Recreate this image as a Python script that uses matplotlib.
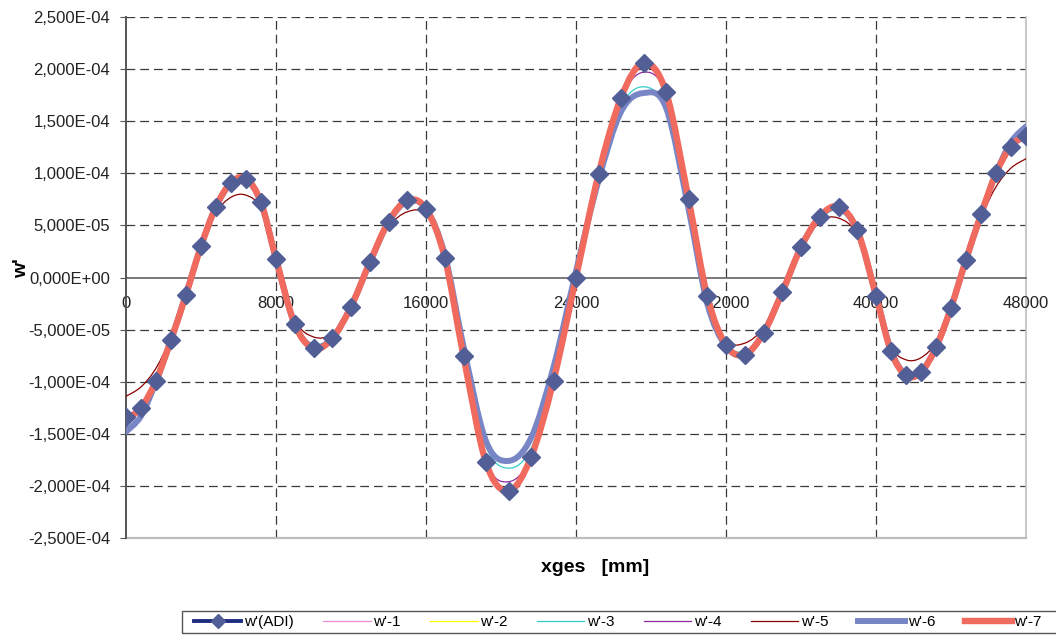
import numpy as np
import matplotlib
matplotlib.use("Agg")
import matplotlib.pyplot as plt
from matplotlib.path import Path
from matplotlib.patches import PathPatch, Rectangle
from matplotlib.lines import Line2D
from matplotlib.ticker import FuncFormatter

plt.rcParams['font.family'] = ['Liberation Sans', 'DejaVu Sans']

# x positions [mm]
xges = [0, 800, 1600, 2400, 3200, 4000, 4800, 5600, 6400, 7200, 8000,
        9000, 10000, 11000, 12000, 13000, 14000, 15000, 16000, 17000, 18000,
        19200, 20400, 21600, 22800, 24000, 25200, 26400, 27600, 28800, 30000,
        31000, 32000, 33000, 34000, 35000, 36000, 37000, 38000, 39000, 40000,
        40800, 41600, 42400, 43200, 44000, 44800, 45600, 46400, 47200, 48000]

# w' values in units of 1E-04
w_adi = [-1.34, -1.255, -0.99, -0.60, -0.165, 0.30, 0.68, 0.91, 0.95, 0.72, 0.18,
         -0.45, -0.68, -0.585, -0.28, 0.145, 0.535, 0.74, 0.66, 0.19, -0.755,
         -1.775, -2.05, -1.725, -0.99, 0.0, 0.99, 1.725, 2.06, 1.78, 0.755,
         -0.18, -0.65, -0.74, -0.535, -0.14, 0.29, 0.585, 0.68, 0.455, -0.175,
         -0.71, -0.94, -0.91, -0.67, -0.29, 0.17, 0.605, 1.0, 1.255, 1.36]
w_1 = [-1.35, -1.25, -0.99, -0.60, -0.165, 0.30, 0.68, 0.91, 0.95, 0.72, 0.18,
       -0.45, -0.68, -0.585, -0.28, 0.145, 0.535, 0.74, 0.66, 0.19, -0.755,
       -1.77, -2.04, -1.72, -0.99, 0.0, 0.99, 1.72, 2.05, 1.78, 0.755,
       -0.18, -0.65, -0.74, -0.535, -0.14, 0.29, 0.585, 0.68, 0.455, -0.175,
       -0.71, -0.94, -0.91, -0.67, -0.29, 0.17, 0.605, 1.0, 1.255, 1.36]
w_2 = [-1.35, -1.25, -0.99, -0.60, -0.165, 0.30, 0.68, 0.91, 0.95, 0.72, 0.18,
       -0.45, -0.68, -0.585, -0.28, 0.145, 0.535, 0.74, 0.66, 0.19, -0.755,
       -1.77, -2.04, -1.72, -0.99, 0.0, 0.99, 1.72, 2.05, 1.78, 0.755,
       -0.18, -0.65, -0.74, -0.535, -0.14, 0.29, 0.585, 0.68, 0.455, -0.175,
       -0.71, -0.94, -0.91, -0.67, -0.29, 0.17, 0.605, 1.0, 1.255, 1.36]
w_3 = [-1.33, -1.24, -0.98, -0.60, -0.165, 0.29, 0.66, 0.88, 0.92, 0.70, 0.18,
       -0.44, -0.64, -0.56, -0.27, 0.14, 0.52, 0.71, 0.64, 0.19, -0.74,
       -1.62, -1.83, -1.64, -0.96, 0.0, 0.96, 1.64, 1.83, 1.62, 0.74,
       -0.19, -0.63, -0.71, -0.52, -0.14, 0.27, 0.56, 0.64, 0.44, -0.18,
       -0.70, -0.92, -0.88, -0.66, -0.29, 0.165, 0.60, 0.98, 1.24, 1.33]
w_4 = [-1.33, -1.24, -0.98, -0.60, -0.165, 0.30, 0.67, 0.90, 0.93, 0.71, 0.18,
       -0.45, -0.67, -0.575, -0.28, 0.14, 0.53, 0.73, 0.65, 0.19, -0.75,
       -1.76, -1.96, -1.72, -0.98, 0.0, 0.98, 1.72, 1.97, 1.76, 0.75,
       -0.19, -0.65, -0.73, -0.53, -0.14, 0.28, 0.575, 0.67, 0.45, -0.18,
       -0.71, -0.93, -0.90, -0.67, -0.29, 0.165, 0.60, 0.98, 1.24, 1.33]
w_5 = [-1.14, -1.05, -0.87, -0.57, -0.16, 0.28, 0.62, 0.77, 0.79, 0.66, 0.19,
       -0.40, -0.57, -0.535, -0.27, 0.13, 0.48, 0.63, 0.60, 0.20, -0.74,
       -1.76, -2.02, -1.71, -0.98, 0.0, 0.98, 1.71, 2.02, 1.76, 0.74,
       -0.20, -0.60, -0.63, -0.48, -0.13, 0.27, 0.535, 0.57, 0.40, -0.19,
       -0.66, -0.79, -0.77, -0.62, -0.28, 0.16, 0.57, 0.87, 1.05, 1.14]
w_6 = [-1.48, -1.33, -1.0, -0.60, -0.16, 0.30, 0.68, 0.90, 0.94, 0.72, 0.18,
       -0.45, -0.67, -0.58, -0.28, 0.14, 0.53, 0.73, 0.66, 0.22, -0.66,
       -1.57, -1.76, -1.54, -0.86, 0.06, 0.93, 1.59, 1.77, 1.63, 0.66,
       -0.25, -0.66, -0.74, -0.53, -0.14, 0.29, 0.58, 0.67, 0.45, -0.17,
       -0.70, -0.93, -0.90, -0.67, -0.29, 0.17, 0.60, 1.0, 1.30, 1.45]
w_7 = [-1.36, -1.25, -0.99, -0.60, -0.165, 0.30, 0.68, 0.91, 0.95, 0.72, 0.18,
       -0.45, -0.68, -0.585, -0.28, 0.145, 0.535, 0.74, 0.66, 0.19, -0.755,
       -1.775, -2.05, -1.725, -0.99, 0.0, 0.99, 1.725, 2.06, 1.78, 0.755,
       -0.18, -0.65, -0.74, -0.535, -0.14, 0.29, 0.585, 0.68, 0.455, -0.175,
       -0.71, -0.94, -0.91, -0.67, -0.29, 0.17, 0.605, 1.0, 1.26, 1.37]

labels = ["w'(ADI)", "w'-1", "w'-2", "w'-3", "w'-4", "w'-5", "w'-6", "w'-7"]
x_ticks = [0, 8000, 16000, 24000, 32000, 40000, 48000]
y_ticks = [-2.5e-4, -2.0e-4, -1.5e-4, -1.0e-4, -5e-5, 0.0, 5e-5, 1.0e-4, 1.5e-4, 2.0e-4, 2.5e-4]


def smooth_path(x, y):
    # excel-like smoothed line (bezier through the points)
    pts = np.column_stack([x, y])
    n = len(pts)
    verts = [pts[0]]
    codes = [Path.MOVETO]
    for i in range(n - 1):
        p0 = pts[max(i - 1, 0)]
        p1 = pts[i]
        p2 = pts[i + 1]
        p3 = pts[min(i + 2, n - 1)]
        verts += [p1 + (p2 - p0) / 6, p2 - (p3 - p1) / 6, p2]
        codes += [Path.CURVE4] * 3
    return Path(verts, codes)


fig = plt.figure(figsize=(10.56, 6.35), dpi=100)
ax = fig.add_axes([126 / 1056, 1 - 538 / 635, 900 / 1056, 521 / 635])

series = [w_adi, w_1, w_2, w_3, w_4, w_5, w_6, w_7]
colors = ['#1F2D80', '#F08CD2', '#FFFF00', '#33CCCC', '#8E2A9E', '#8B0000', '#7886C6', '#F06A5E']
widths = [2.8, 0.9, 0.9, 0.9, 0.9, 0.9, 4.3, 4.6]

for i, s in enumerate(series):
    p = smooth_path(xges, np.array(s) * 1e-4)
    ax.add_patch(PathPatch(p, fill=False, edgecolor=colors[i], lw=widths[i],
                           capstyle='round', joinstyle='round', zorder=3 + i))

ax.plot(xges, np.array(w_adi) * 1e-4, linestyle='none', marker='D', ms=9,
        color='#525E96', mec='#525E96', zorder=12)

ax.set_xlim(0, 48000)
ax.set_ylim(-2.5e-4, 2.5e-4)

# dashed grid
for xv in x_ticks[1:-1]:
    ax.axvline(xv, color='#3A3A3A', lw=0.9, ls=(0, (7, 4)), zorder=1)
for yv in y_ticks[1:]:
    if yv != 0.0:
        ax.axhline(yv, color='#3A3A3A', lw=0.9, ls=(0, (7, 4)), zorder=1)
ax.axhline(-2.5e-4, color='#BDBDBD', lw=1.6, zorder=1, clip_on=False)
ax.axvline(48000, color='#BDBDBD', lw=1.2, zorder=1, clip_on=False)

for s in ['top', 'right']:
    ax.spines[s].set_visible(False)
ax.spines['bottom'].set_position(('data', 0))
ax.spines['bottom'].set_color('#555555')
ax.spines['bottom'].set_linewidth(1.1)
ax.spines['left'].set_color('#555555')
ax.spines['left'].set_linewidth(1.4)

ax.set_xticks(x_ticks)
ax.set_xticklabels([str(v) for v in x_ticks])
ax.set_yticks(y_ticks)
ax.yaxis.set_major_formatter(FuncFormatter(lambda v, p: ('%.3E' % v).replace('.', ',')))
ax.tick_params(axis='x', length=0, pad=13, labelsize=12, colors='#222222')
ax.tick_params(axis='y', length=4.5, pad=7, labelsize=12, colors='#555555', labelcolor='#222222')

fig.text(22 / 1056, 1 - 268 / 635, "w'", rotation=90, fontsize=14, fontweight='bold',
         ha='center', va='center')
fig.text(595 / 1056, 1 - 568 / 635, "xges   [mm]", fontsize=14, fontweight='bold',
         ha='center', va='center')

# legend
handles = [Line2D([], [], color=colors[0], lw=widths[0], marker='D', ms=7,
                  mfc='#525E96', mec='#525E96')]
for i in range(1, 8):
    handles.append(Line2D([], [], color=colors[i], lw=widths[i]))
fig.legend(handles, labels, loc='center left', bbox_to_anchor=(194 / 1056, 1 - 622 / 635),
           ncol=8, frameon=False, fontsize=11, handlelength=3.1, handletextpad=0.15,
           columnspacing=1.95, borderpad=0, borderaxespad=0, numpoints=1)
fig.patches.append(Rectangle((182 / 1056, 1 - 633 / 635), 900 / 1056, 22 / 635,
                             transform=fig.transFigure, fill=False, edgecolor='#555555', lw=1))

fig.savefig("out.png", dpi=100)
